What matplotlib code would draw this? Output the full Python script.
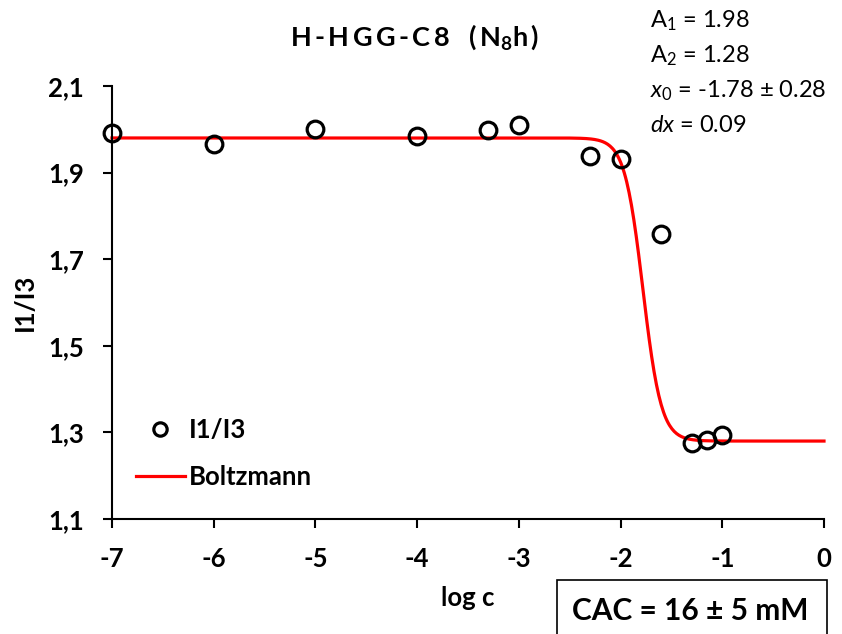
import numpy as np
import matplotlib
matplotlib.use('Agg')
import matplotlib.pyplot as plt
import matplotlib.ticker as plticker
from matplotlib.patches import Rectangle

# measured points: log c vs I1/I3
log_c = [-7.0, -6.0, -5.0, -4.0, -3.3, -3.0, -2.3, -2.0, -1.6, -1.3, -1.15, -1.0]
ratio = [1.991, 1.966, 2.001, 1.985, 1.998, 2.010, 1.938, 1.931, 1.758, 1.276, 1.282, 1.294]

# Boltzmann fit parameters shown on the chart
A1 = 1.98
A2 = 1.28
x0 = -1.78
dx = 0.09

x_ticks = [-7, -6, -5, -4, -3, -2, -1, 0]
y_ticks = [1.1, 1.3, 1.5, 1.7, 1.9, 2.1]

plt.rcParams['font.family'] = ['Lato', 'DejaVu Sans']
plt.rcParams['mathtext.fontset'] = 'custom'
plt.rcParams['mathtext.rm'] = 'Lato'
plt.rcParams['mathtext.it'] = 'Lato:italic'
plt.rcParams['mathtext.bf'] = 'Lato:bold'
plt.rcParams['axes.unicode_minus'] = False

fig = plt.figure(figsize=(8.42, 6.34), dpi=100)
W, H = 842.0, 634.0
ax = fig.add_axes([112/W, 1-519/H, (824-112)/W, (519-86)/H])

xfit = np.linspace(-7, 0, 600)
yfit = A2 + (A1 - A2) / (1 + np.exp((xfit - x0) / dx))

pts, = ax.plot(log_c, ratio, 'o', ms=12, mfc='none', mec='black', mew=2.3,
               label='I1/I3', zorder=3)
fit, = ax.plot(xfit, yfit, color='#ff0000', lw=2.3, label='Boltzmann', zorder=2)

ax.set_xlim(-7, 0)
ax.set_ylim(1.1, 2.1)
ax.set_xticks(x_ticks)
ax.set_yticks(y_ticks)
ax.yaxis.set_major_formatter(plticker.FuncFormatter(lambda v, p: ('%.1f' % v).replace('.', ',')))
ax.xaxis.set_major_formatter(plticker.FuncFormatter(lambda v, p: '%d' % v))

for s in ['top', 'right']:
    ax.spines[s].set_visible(False)
for s in ['left', 'bottom']:
    ax.spines[s].set_linewidth(1.5)
ax.tick_params(direction='out', length=6.5, width=1.5, labelsize=18.5)
ax.tick_params(axis='y', pad=13.5)
ax.tick_params(axis='x', pad=14)
for lab in ax.get_xticklabels() + ax.get_yticklabels():
    lab.set_fontweight('bold')
for l in [pts, fit]:
    l.set_clip_on(False)

ax.set_xlabel('log c', fontsize=18.5, fontweight='bold')
ax.xaxis.set_label_coords((468-112)/712, (519-598)/433)
ax.xaxis.label.set_va('center')
ax.set_ylabel('I1/I3', fontsize=18.5, fontweight='bold')
ax.yaxis.set_label_coords((25-112)/712, 0.5)
ax.yaxis.label.set_va('center')

leg = ax.legend(handles=[pts, fit], loc='upper left',
                bbox_to_anchor=(136/W, 1-418/H), bbox_transform=fig.transFigure,
                frameon=False, borderpad=0, borderaxespad=0, handlelength=1.9,
                handletextpad=0.15, labelspacing=0.9, markerscale=0.8,
                prop={'size': 18.5, 'weight': 'bold'})

# letter-spaced title
sp = '\u2009'
title = sp.join('H-HGG-C8') + '   ' + sp.join('(N') + r'$_\mathbf{8}$' + 'h' + sp + ')'
fig.text(415/W, 1-37/H, title, ha='center', va='center', fontsize=19.5, fontweight='bold')

ann = [r'A$_1$ = 1.98', r'A$_2$ = 1.28', r'$x_0$ = -1.78 ± 0.28', r'$dx$ = 0.09']
for i, t in enumerate(ann):
    fig.text(650/W, 1-(21+35*i)/H, t, ha='left', va='center', fontsize=17)

fig.patches.append(Rectangle((557/W, -0.05), (827-557)/W, (634-580)/H+0.05,
                             transform=fig.transFigure, fill=False, ec='black', lw=1.2))
fig.text(690/W, 1-611/H, 'CAC = 16 ± 5 mM', ha='center', va='center',
         fontsize=21.5, fontweight='bold')

fig.savefig('out.png', dpi=100)
